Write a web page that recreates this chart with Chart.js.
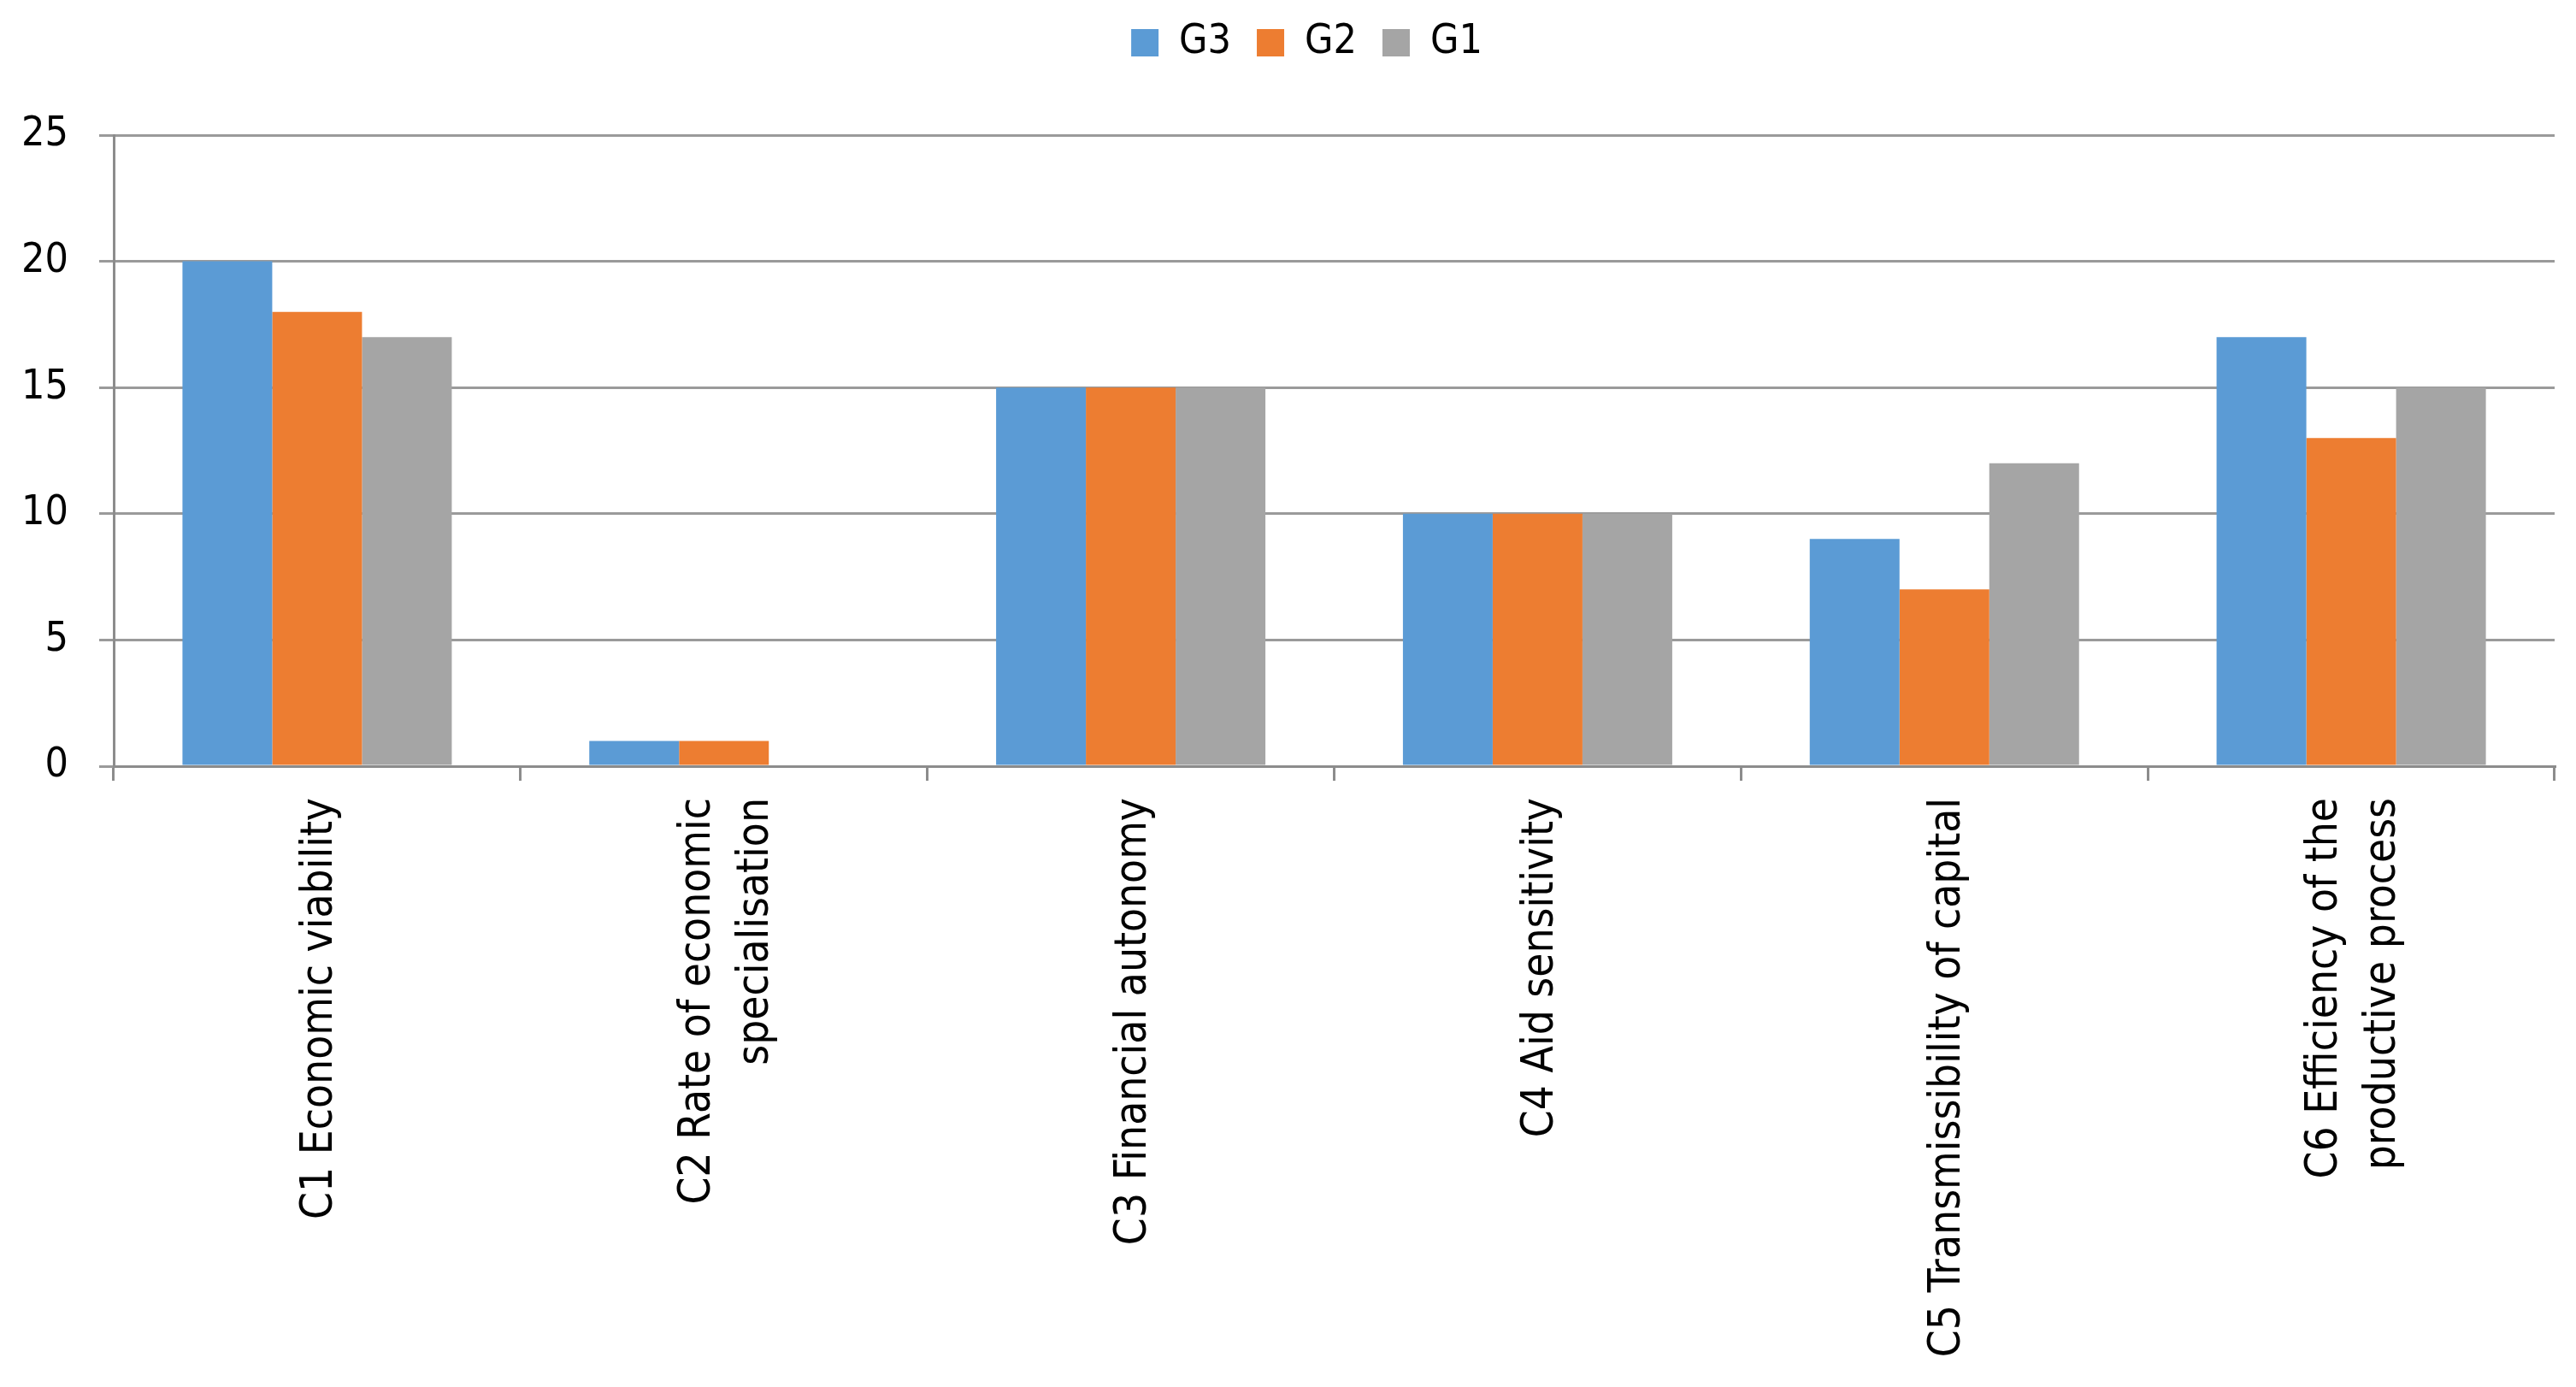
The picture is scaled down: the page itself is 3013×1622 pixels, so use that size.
<!DOCTYPE html>
<html>
<head>
<meta charset="utf-8">
<script src="https://cdn.jsdelivr.net/npm/chart.js@4.4.1/dist/chart.umd.min.js"></script>
<style>
  html, body { margin: 0; padding: 0; background: #ffffff; }
  #wrap { width: 3013px; height: 1622px; }
</style>
</head>
<body>
<div id="wrap"><canvas id="barChart" width="3013" height="1622"></canvas></div>
<script>
/* ------------------------------------------------------------------ */
/*  Chart data                                                        */
/* ------------------------------------------------------------------ */

var CATEGORIES = [
  'C1 Economic viability',
  ['C2 Rate of economic', 'specialisation'],
  'C3 Financial autonomy',
  'C4 Aid sensitivity',
  'C5 Transmissibility of capital',
  ['C6 Efficiency of the', 'productive process'],
];

var G3_VALUES = [20, 1, 15, 10, 9, 17];
var G2_VALUES = [18, 1, 15, 10, 7, 13];
var G1_VALUES = [17, 0, 15, 10, 12, 15];

var Y_TICKS = [0, 5, 10, 15, 20, 25];

/* ------------------------------------------------------------------ */
/*  Styling                                                           */
/* ------------------------------------------------------------------ */

var FONT = '"DejaVu Sans Condensed", "DejaVu Sans", sans-serif';
var FONT_SIZE = 48;
var LABEL_FONT_SIZE = 51;
var AXIS_GREY = '#8c8c8c';
var GRID_GREY = '#9a9a9a';

var LABEL_LINE_SPACING = 68;  // px between lines of a wrapped category label
var LABEL_GAP = 37;           // px from the x axis line to the end of the label
var LEGEND_SHIFT_X = 22;      // original legend sits a little right of centre

function barDataset(label, values, color) {
  return {
    label: label,
    data: values,
    backgroundColor: color,
    borderWidth: 0,
    categoryPercentage: 0.662,
    barPercentage: 1.0,
  };
}

/* ------------------------------------------------------------------ */
/*  Plugins                                                           */
/* ------------------------------------------------------------------ */

/** Leaves empty room between the legend and the plot area, nudges it right. */
var legendSpacer = {
  id: 'legendSpacer',
  beforeUpdate: function (chart) {
    if (!chart.legend || chart.legend._spaced) return;
    var origFit = chart.legend.fit;
    chart.legend.fit = function () {
      origFit.call(this);
      this.height += 74;
    };
    chart.legend._spaced = true;
  },
  afterLayout: function (chart) {
    if (!chart.legend) return;
    chart.legend.left += LEGEND_SHIFT_X;
    chart.legend.right += LEGEND_SHIFT_X;
  },
};

/**
 * Vertical category labels, with wrapped lines centred on the tick
 * (Chart.js itself stacks them from the tick outwards).
 */
var categoryLabels = {
  id: 'categoryLabels',
  afterDraw: function (chart) {
    var scale = chart.scales.x;
    var ctx = chart.ctx;
    ctx.save();
    ctx.font = LABEL_FONT_SIZE + 'px ' + FONT;
    ctx.fillStyle = '#000000';
    ctx.textAlign = 'right';
    ctx.textBaseline = 'middle';
    CATEGORIES.forEach(function (label, i) {
      var lines = [].concat(label);
      var cx = scale.getPixelForTick(i) + 4;
      lines.forEach(function (line, j) {
        var x = cx + (j - (lines.length - 1) / 2) * LABEL_LINE_SPACING;
        ctx.save();
        ctx.translate(x, scale.top + LABEL_GAP);
        ctx.rotate(-Math.PI / 2);
        ctx.fillText(line, 0, 0);
        ctx.restore();
      });
    });
    ctx.restore();
  },
};

/* ------------------------------------------------------------------ */
/*  Chart                                                             */
/* ------------------------------------------------------------------ */

var config = {
  type: 'bar',
  data: {
    labels: CATEGORIES,
    datasets: [
      barDataset('G3', G3_VALUES, '#5b9bd5'),
      barDataset('G2', G2_VALUES, '#ed7d31'),
      barDataset('G1', G1_VALUES, '#a5a5a5'),
    ],
  },
  options: {
    responsive: false,
    devicePixelRatio: 1,
    animation: false,
    layout: {
      padding: { top: -4, right: 25, bottom: 0, left: 25 },
    },
    plugins: {
      legend: {
        display: true,
        position: 'top',
        labels: {
          font: { family: FONT, size: FONT_SIZE },
          color: '#000000',
          boxWidth: 32,
          boxHeight: 32,
          padding: 30,
        },
      },
      tooltip: { enabled: false },
    },
    scales: {
      x: {
        offset: true,
        afterFit: function (axis) { axis.height = 726; },
        grid: {
          offset: true,
          drawOnChartArea: false,
          drawTicks: true,
          tickLength: 17,
          color: AXIS_GREY,
          lineWidth: 3,
        },
        border: { display: true, color: AXIS_GREY, width: 3 },
        ticks: { display: false, autoSkip: false },
      },
      y: {
        min: 0,
        max: 25,
        afterFit: function (axis) { axis.width = 108; },
        afterBuildTicks: function (axis) {
          axis.ticks = Y_TICKS.map(function (v) { return { value: v }; });
        },
        grid: {
          drawTicks: true,
          tickLength: 17,
          color: GRID_GREY,
          lineWidth: 3,
        },
        border: { display: true, color: AXIS_GREY, width: 3 },
        ticks: {
          padding: 36,
          color: '#000000',
          font: { family: FONT, size: FONT_SIZE },
        },
      },
    },
  },
  plugins: [legendSpacer, categoryLabels],
};

new Chart(document.getElementById('barChart').getContext('2d'), config);
</script>
</body>
</html>
